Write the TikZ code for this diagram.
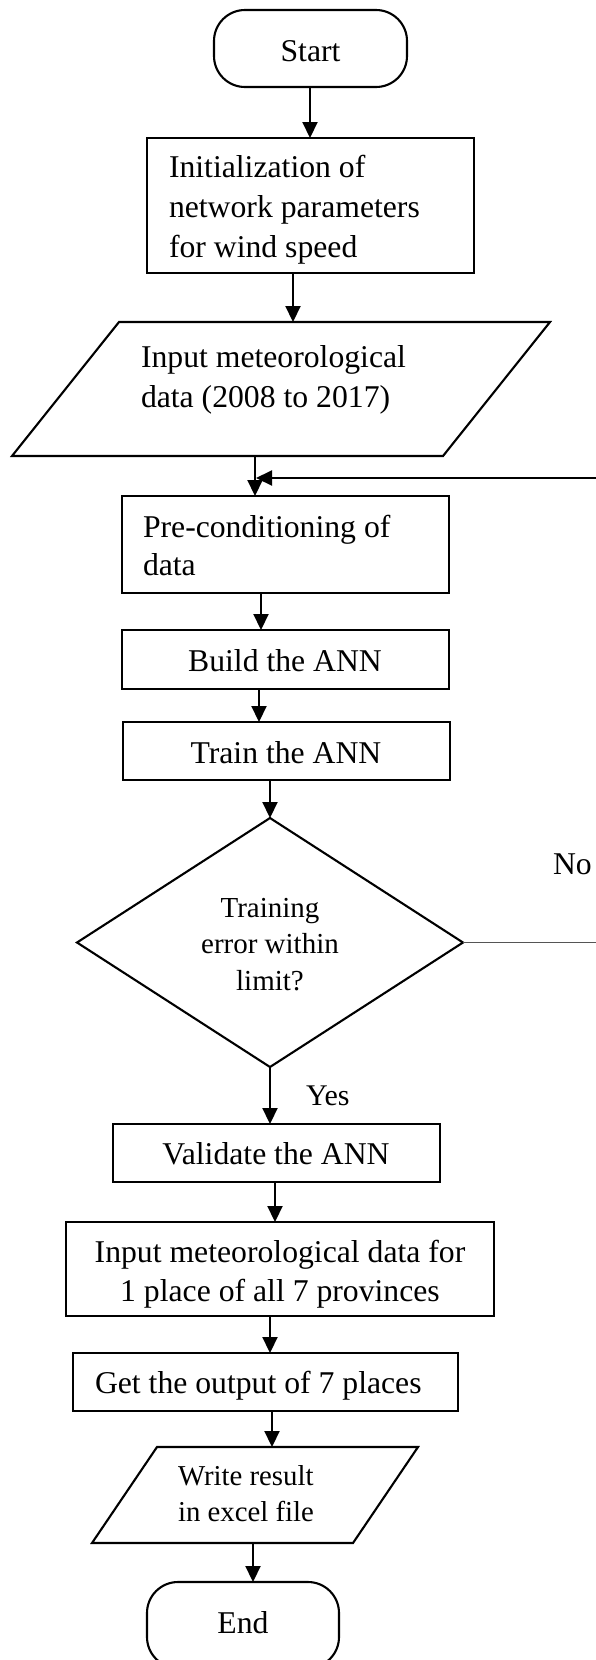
\documentclass[tikz,border=0pt]{standalone}
\usepackage{fontspec}
\setmainfont{Liberation Serif}
\usetikzlibrary{arrows.meta}
\definecolor{branchgray}{HTML}{555555}
\newcommand\boxfont[1]{\fontsize{31.7pt}{#1}\selectfont}
\newcommand\smallfont[1]{\fontsize{29pt}{#1}\selectfont}
\begin{document}
\begin{tikzpicture}[
  x=1pt, y=-1pt,
  outline/.style={draw=black, line width=2.1pt},
  procbox/.style={outline, rectangle, inner sep=0pt, outer sep=0pt},
  frame/.style={rectangle, inner sep=0pt, outer sep=0pt, draw=none},
  term/.style={outline, rectangle, rounded corners=31pt, inner sep=0pt, outer sep=0pt},
  txt/.style={inner sep=0pt, outer sep=0pt, text=black},
  arr/.style={line width=2.1pt, -{Triangle[width=15pt,length=16pt]}},
  thinline/.style={draw=branchgray, line width=1.3pt}
]
\useasboundingbox (0,0) rectangle (596,1660);

% shapes
\node[term, minimum width=193pt, minimum height=77pt] (s0) at (310.5,48.5) {};
\node[procbox, minimum width=327pt, minimum height=135pt] (b1) at (310.5,205.5) {};
\node[frame, minimum width=538pt, minimum height=134pt] (p1) at (281,389) {};
\draw[outline] ([xshift=107pt]p1.north west) -- (p1.north east)
  -- ([xshift=-107pt]p1.south east) -- (p1.south west) -- cycle;
\node[procbox, minimum width=327pt, minimum height=97pt] (b2) at (285.5,544.5) {};
\node[procbox, minimum width=327pt, minimum height=59pt] (b3) at (285.5,659.5) {};
\node[procbox, minimum width=327pt, minimum height=58pt] (b4) at (286.5,751) {};
\node[frame, minimum width=386pt, minimum height=249pt] (d) at (270,942.5) {};
\draw[outline] (d.north) -- (d.east) -- (d.south) -- (d.west) -- cycle;
\node[procbox, minimum width=327pt, minimum height=58pt] (b5) at (276.5,1153) {};
\node[procbox, minimum width=428pt, minimum height=94pt] (b6) at (280,1269) {};
\node[procbox, minimum width=385pt, minimum height=58pt] (b7) at (265.5,1382) {};
\node[frame, minimum width=326pt, minimum height=96pt] (p2) at (255,1495) {};
\draw[outline] ([xshift=65pt]p2.north west) -- (p2.north east)
  -- ([xshift=-65pt]p2.south east) -- (p2.south west) -- cycle;
\node[term, minimum width=192pt, minimum height=86pt] (e) at (243,1625) {};

% texts
\node[txt, anchor=base] (t0) at (310.5,61) {\boxfont{40pt}Start};
\node[txt, anchor=base west] (t1) at (169,177) {\boxfont{40pt}\begin{tabular}[t]{@{}l@{}}Initialization of\\network parameters\\for wind speed\end{tabular}};
\node[txt, anchor=base west] (t2) at (141,367) {\boxfont{40pt}\begin{tabular}[t]{@{}l@{}}Input meteorological\\data (2008 to 2017)\end{tabular}};
\node[txt, anchor=base west] (t3) at (143,537) {\boxfont{38pt}\begin{tabular}[t]{@{}l@{}}Pre-conditioning of\\data\end{tabular}};
\node[txt, anchor=base] (t4) at (285,671) {\boxfont{40pt}Build the ANN};
\node[txt, anchor=base] (t5) at (286,763) {\boxfont{40pt}Train the ANN};
\node[txt, anchor=base] (t6) at (270,917) {\smallfont{36.5pt}\begin{tabular}[t]{@{}c@{}}Training\\error within\\limit?\end{tabular}};
\node[txt, anchor=base west] (tno) at (553,874) {\boxfont{40pt}No};
\node[txt, anchor=base west] (tyes) at (306,1105) {\fontsize{30pt}{36pt}\selectfont Yes};
\node[txt, anchor=base] (t7) at (276,1164) {\boxfont{40pt}Validate the ANN};
\node[txt, anchor=base] (t8) at (280,1262) {\boxfont{39pt}\begin{tabular}[t]{@{}c@{}}Input meteorological data for\\1 place of all 7 provinces\end{tabular}};
\node[txt, anchor=base west] (t9) at (95,1393) {\boxfont{40pt}Get the output of 7 places};
\node[txt, anchor=base west] (t10) at (178,1485) {\fontsize{28.8pt}{36pt}\selectfont\begin{tabular}[t]{@{}l@{}}Write result\\in excel file\end{tabular}};
\node[txt, anchor=base] (t11) at (243,1633) {\boxfont{40pt}End};

% connectors
\draw[arr] (s0.south -| 310,0) -- (b1.north -| 310,0);
\draw[arr] (b1.south -| 293,0) -- (p1.north -| 293,0);
\draw[arr] (p1.south -| 255,0) -- (b2.north -| 255,0);
\draw[arr] (b2.south -| 261,0) -- (b3.north -| 261,0);
\draw[arr] (b3.south -| 259,0) -- (b4.north -| 259,0);
\draw[arr] (b4.south -| 270,0) -- (d.north);
\draw[arr] (d.south) -- (b5.north -| 270,0);
\draw[arr] (b5.south -| 275,0) -- (b6.north -| 275,0);
\draw[arr] (b6.south -| 270,0) -- (b7.north -| 270,0);
\draw[arr] (b7.south -| 272,0) -- (p2.north -| 272,0);
\draw[arr] (p2.south -| 253,0) -- (e.north -| 253,0);

% "No" branch leaving to the right and the loop back above pre-conditioning
\coordinate (noend) at (596,942.5);
\coordinate (loopin) at (596,478);
\coordinate (join) at (256,478);
\draw[thinline] (d.east) -- (noend);
\draw[arr] (loopin) -- (join);
\end{tikzpicture}
\end{document}
